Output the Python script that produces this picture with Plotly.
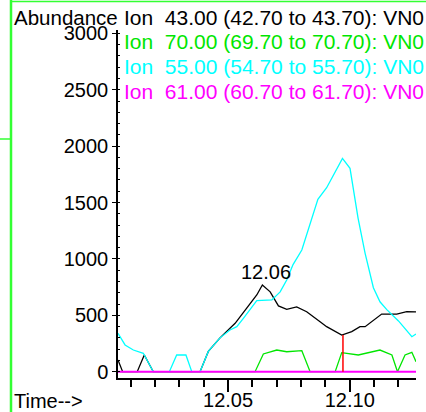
import plotly.graph_objects as go

# Ion 43 (black)
t_43 = [12.0048, 12.0067, 12.0127, 12.0156, 12.0193, 12.0385, 12.0419, 12.0467, 12.0529,
        12.0577, 12.0618, 12.0641, 12.0673, 12.0707, 12.0741, 12.0782, 12.0823, 12.0878,
        12.0905, 12.0967, 12.1008, 12.1042, 12.1063, 12.1131, 12.1193, 12.1234, 12.1272]
ab_43 = [104, 0, 0, 148, 0, 0, 180, 300, 429,
         562, 680, 769, 708, 583, 553, 575, 532, 443,
         399, 325, 355, 399, 399, 511, 511, 532, 530]

# Ion 70 (green)
t_70 = [12.0048, 12.0611, 12.0645, 12.0700, 12.0741, 12.0803, 12.0837, 12.0940, 12.0967,
        12.1035, 12.1124, 12.1173, 12.1196, 12.1227, 12.1255, 12.1272]
ab_70 = [0, 0, 157, 192, 177, 186, 0, 0, 169,
         148, 192, 148, 0, 148, 172, 89]

# Ion 55 (cyan)
t_55 = [12.0048, 12.0077, 12.0111, 12.0152, 12.0193, 12.0259, 12.0289, 12.0327, 12.0351,
        12.0385, 12.0419, 12.0467, 12.0508, 12.0536, 12.0563, 12.0618, 12.0680, 12.0714,
        12.0741, 12.0767, 12.0803, 12.0869, 12.0905, 12.0940, 12.0970, 12.1001, 12.1034,
        12.1063, 12.1097, 12.1124, 12.1152, 12.1200, 12.1234, 12.1255, 12.1272]
ab_55 = [340, 237, 192, 163, 0, 0, 148, 148, 0,
         0, 180, 300, 370, 399, 473, 630, 636, 708,
         813, 950, 1079, 1529, 1631, 1773, 1892, 1803, 1362,
         1050, 745, 620, 550, 450, 365, 310, 334]

# Ion 61 (magenta) - flat
t_61 = [12.0048, 12.0600, 12.1272]
ab_61 = [0, 0, 0]

# red marker line
marker_t = 12.0972
marker_top = 325

peak_label = "12.06"
peak_t = 12.0656
peak_y = 887

ion_labels = [
    ("Ion  43.00 (42.70 to 43.70): VN0", "#000000"),
    ("Ion  70.00 (69.70 to 70.70): VN0", "#00e600"),
    ("Ion  55.00 (54.70 to 55.70): VN0", "#00ffff"),
    ("Ion  61.00 (60.70 to 61.70): VN0", "#ff00ff"),
]

# plot area in pixels
L, R, T, B = 118, 416, 30, 378


def px_x(p):
    return (p - L) / (R - L)


def px_y(p):
    return (B - p) / (B - T)


fig = go.Figure()
line_w = 1.3
fig.add_trace(go.Scatter(x=t_43, y=ab_43, mode="lines", line=dict(color="#000000", width=line_w)))
fig.add_trace(go.Scatter(x=t_70, y=ab_70, mode="lines", line=dict(color="#00e600", width=line_w)))
fig.add_trace(go.Scatter(x=t_55, y=ab_55, mode="lines", line=dict(color="#00ffff", width=line_w)))
fig.add_trace(go.Scatter(x=t_61, y=ab_61, mode="lines", line=dict(color="#ff00ff", width=2)))
fig.add_trace(go.Scatter(x=[marker_t, marker_t], y=[0, marker_top], mode="lines",
                         line=dict(color="#ff0000", width=1.5)))

font = "Arial, Liberation Sans, sans-serif"
fig.update_layout(
    width=426, height=412,
    margin=dict(l=L, r=426 - R, t=T, b=412 - B),
    plot_bgcolor="white", paper_bgcolor="white",
    showlegend=False,
    font=dict(family=font, size=20, color="black"),
)
fig.update_xaxes(
    range=[12.0048, 12.1272], showgrid=False, zeroline=False, automargin=False,
    showline=True, linecolor="black", linewidth=2,
    ticks="outside", ticklen=12, tickwidth=1.5, tickcolor="black",
    tick0=12.0, dtick=0.05, tickformat=".2f", ticklabelstandoff=-9,
    minor=dict(dtick=0.01, ticks="outside", ticklen=7, tickwidth=1.5, tickcolor="black"),
)
fig.update_yaxes(
    range=[-56, 3030], showgrid=False, zeroline=False, automargin=False,
    showline=True, linecolor="black", linewidth=1.5,
    ticks="outside", ticklen=4, tickwidth=1.2, tickcolor="black",
    dtick=500,
    minor=dict(dtick=100, ticks="inside", ticklen=2, tickcolor="black"),
)

# ion legend text
for i, (txt, col) in enumerate(ion_labels):
    fig.add_annotation(text=txt, xref="paper", yref="paper", x=px_x(122), y=px_y(17.5 + 24.5 * i),
                       xanchor="left", yanchor="middle", showarrow=False,
                       font=dict(size=21, color=col))

fig.add_annotation(text="Abundance", xref="paper", yref="paper", x=px_x(12), y=px_y(17.5),
                   xanchor="left", yanchor="middle", showarrow=False, font=dict(size=20.5))
fig.add_annotation(text="Time-->", xref="paper", yref="paper", x=px_x(12), y=px_y(401),
                   xanchor="left", yanchor="middle", showarrow=False)
fig.add_annotation(text=peak_label, x=peak_t, y=peak_y, xanchor="center", yanchor="middle",
                   showarrow=False)

# green window frame
green = "#33ff33"
fig.add_shape(type="line", xref="paper", yref="paper", x0=px_x(11), x1=px_x(11),
              y0=px_y(0), y1=px_y(412), line=dict(color=green, width=2.5))
fig.add_shape(type="line", xref="paper", yref="paper", x0=px_x(11), x1=px_x(430),
              y0=px_y(1.5), y1=px_y(1.5), line=dict(color=green, width=1.5))
fig.add_shape(type="line", xref="paper", yref="paper", x0=px_x(-2), x1=px_x(11),
              y0=px_y(139), y1=px_y(139), line=dict(color=green, width=1.5))

# drop the default page margin so the figure sits at the window's corner
fig.write_html("out.html", config={"displayModeBar": False},
               post_script="document.body.style.margin='0px';")
